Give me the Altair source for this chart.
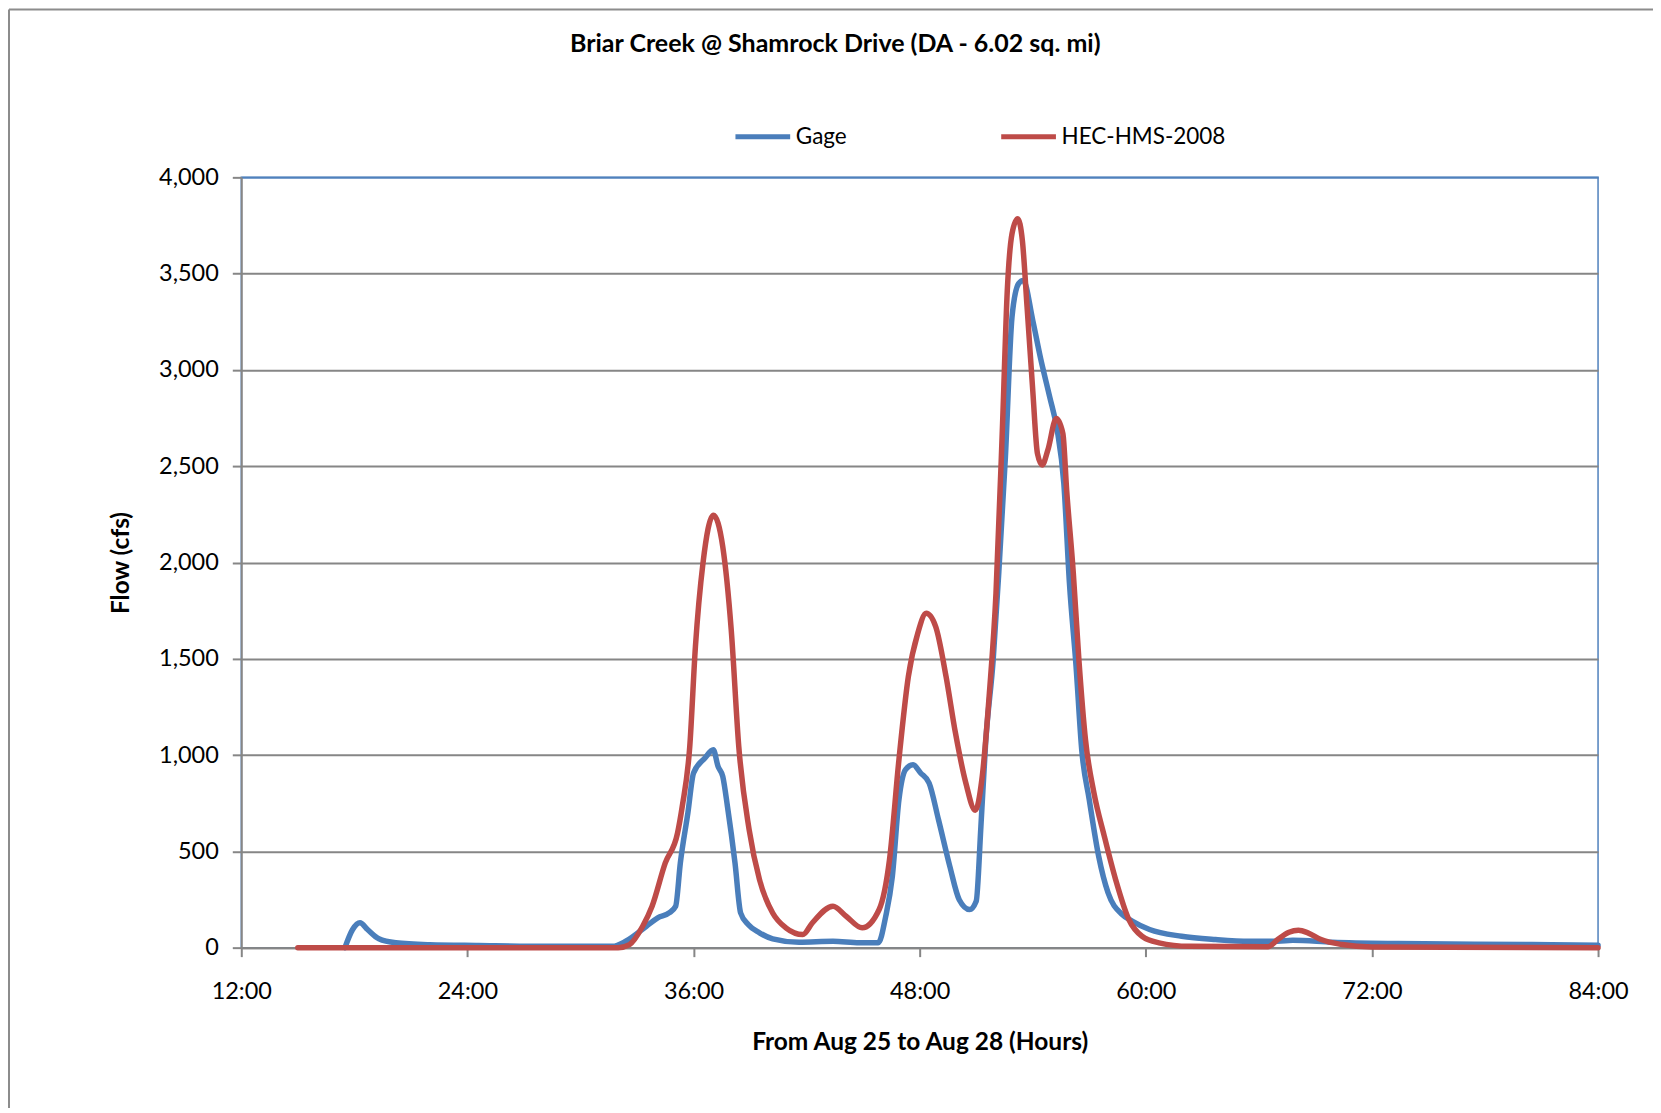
import altair as alt
import pandas as pd

gage_hours = [17.5, 17.9, 18.3, 18.7, 19.3, 20.2, 22.0, 24.6, 28.2, 31.7,
              32.4, 33.5, 34.1, 34.7, 35.05, 35.3, 35.7, 36.0, 36.6, 37.05,
              37.3, 37.55, 37.8, 38.2, 38.5, 38.9, 39.5, 40.2, 41.6, 43.4,
              44.8, 45.8, 46.2, 46.55, 46.9, 47.25, 47.65, 48.05, 48.5, 49.0,
              49.6, 50.1, 50.65, 51.0, 51.25, 51.5, 51.9, 52.2, 52.55, 52.9,
              53.25, 53.5, 54.0, 54.4, 54.9, 55.3, 55.65, 55.95, 56.3, 56.6,
              57.0, 57.5, 58.0, 58.75, 59.3, 60.2, 61.9, 63.7, 65.5, 67.0,
              67.8, 69.9, 73.4, 80.5, 84.0]
gage_flow = [0, 93, 129, 94, 46, 25, 15, 11, 7, 7,
             33, 111, 155, 180, 215, 440, 700, 907, 984, 1027,
             941, 889, 733, 440, 180, 120, 77, 46, 28, 33,
             25, 25, 163, 370, 768, 924, 950, 907, 855, 664,
             422, 249, 198, 241, 630, 1062, 1494, 1950, 2549, 3275,
             3448, 3465, 3258, 3068, 2860, 2687, 2411, 1890, 1460, 1027,
             768, 474, 284, 172, 137, 94, 59, 42, 33, 33,
             38, 28, 21, 16, 12]

hms_hours = [15.0, 32.0, 32.6, 33.3, 33.8, 34.5, 35.15, 35.4, 35.8, 36.1,
             36.5, 37.05, 37.55, 38.0, 38.4, 38.95, 39.5, 40.2, 40.9, 41.8,
             42.3, 43.4, 44.1, 44.95, 45.85, 46.4, 46.9, 47.4, 47.9, 48.35,
             48.85, 49.4, 49.9, 50.45, 50.95, 51.3, 51.7, 52.05, 52.4, 52.65,
             52.9, 53.2, 53.45, 53.7, 54.0, 54.25, 54.5, 54.8, 55.25, 55.6,
             55.8, 56.15, 56.45, 56.8, 57.25, 57.8, 58.4, 59.1, 59.8, 60.7,
             62.3, 66.5, 67.0, 67.6, 68.1, 68.6, 69.3, 70.4, 72.0, 84.0]
hms_flow = [0, 0, 16, 111, 215, 440, 595, 733, 1045, 1563,
            1996, 2246, 2082, 1650, 1045, 613, 353, 180, 103, 68,
            128, 215, 163, 103, 198, 457, 976, 1408, 1633, 1736,
            1667, 1408, 1114, 855, 713, 872, 1322, 1840, 2722, 3413,
            3707, 3785, 3672, 3327, 2895, 2566, 2506, 2583, 2748, 2670,
            2376, 1950, 1494, 1079, 803, 578, 353, 146, 59, 25,
            7, 5, 42, 80, 90, 77, 42, 16, 3, 0]

series_names = ["Gage", "HEC-HMS-2008"]
series_colors = ["#4A7EBB", "#BE4B48"]
x_ticks = [12, 24, 36, 48, 60, 72, 84]
y_ticks = [0, 500, 1000, 1500, 2000, 2500, 3000, 3500, 4000]
chart_title = "Briar Creek @ Shamrock Drive (DA - 6.02 sq. mi)"

rows = []
for i, (h, f) in enumerate(zip(gage_hours, gage_flow)):
    rows.append({"hour": h, "flow": f, "series": series_names[0], "order": i})
for i, (h, f) in enumerate(zip(hms_hours, hms_flow)):
    rows.append({"hour": h, "flow": f, "series": series_names[1], "order": i})
df = pd.DataFrame(rows)

FONT = "Lato"
GRAY = "#868686"

lines = alt.Chart(df).mark_line(
    interpolate="monotone", strokeWidth=5.5, strokeCap="round", strokeJoin="round"
).encode(
    x=alt.X("hour:Q",
            scale=alt.Scale(domain=[12, 84], nice=False, zero=False),
            axis=alt.Axis(values=x_ticks, labelExpr="datum.value + ':00'",
                          grid=False, title="From Aug 25 to Aug 28 (Hours)",
                          titleX=679, titleY=95, titleBaseline="middle",
                          labelPadding=23, labelFlush=False)),
    y=alt.Y("flow:Q",
            scale=alt.Scale(domain=[0, 4000], nice=False),
            axis=alt.Axis(values=y_ticks, format=",.0f", grid=True,
                          gridColor={"condition": {"test": "datum.value == 4000", "value": "#4F81BD"},
                                     "value": GRAY},
                          title="Flow (cfs)", titleX=-119.5, titleY=385.5,
                          titleBaseline="middle", labelPadding=14, labelFlush=False)),
    color=alt.Color("series:N",
                    scale=alt.Scale(domain=series_names, range=series_colors),
                    legend=alt.Legend(title=None, orient="none", direction="horizontal",
                                      legendX=492, legendY=-71,
                                      symbolType="stroke", symbolSize=3000,
                                      symbolStrokeWidth=5, labelOffset=3,
                                      columnPadding=144, labelFontSize=22.5,
                                      labelFont=FONT, labelLimit=0, padding=0)),
    order="order:Q",
    detail="series:N",
)

one = pd.DataFrame({"k": [0]})
frame = alt.Chart(one).mark_rule(color="#8C8C8C", strokeWidth=2).encode(
    x=alt.value(-232.5), y=alt.value(-168), y2=alt.value(940)
)
frame_top = alt.Chart(one).mark_rule(color="#8C8C8C", strokeWidth=2).encode(
    x=alt.value(-232.5), x2=alt.value(1420), y=alt.value(-168)
)
title = alt.Chart(one).mark_text(
    text=chart_title, font=FONT, fontSize=25, fontWeight="bold",
    color="black", align="center", baseline="middle"
).encode(x=alt.value(594.5), y=alt.value(-133.5))

chart = alt.layer(frame, frame_top, title, lines).properties(
    width=1358,
    height=771,
    autosize=alt.AutoSizeParams(type="none"),
    padding={"left": 233.5, "top": 169, "right": 55, "bottom": 160},
).configure_view(
    stroke="#4F81BD", strokeWidth=1.5
).configure_axis(
    labelFont=FONT, labelFontSize=23.5, labelColor="black",
    titleFont=FONT, titleFontSize=24.5, titleFontWeight="bold", titleColor="black",
    domainColor=GRAY, domainWidth=2, tickColor=GRAY, tickWidth=2, tickSize=9,
    gridWidth=2,
).configure_legend(
    labelColor="black"
)

chart.save("out.html", embed_options={"renderer": "svg", "actions": False})
